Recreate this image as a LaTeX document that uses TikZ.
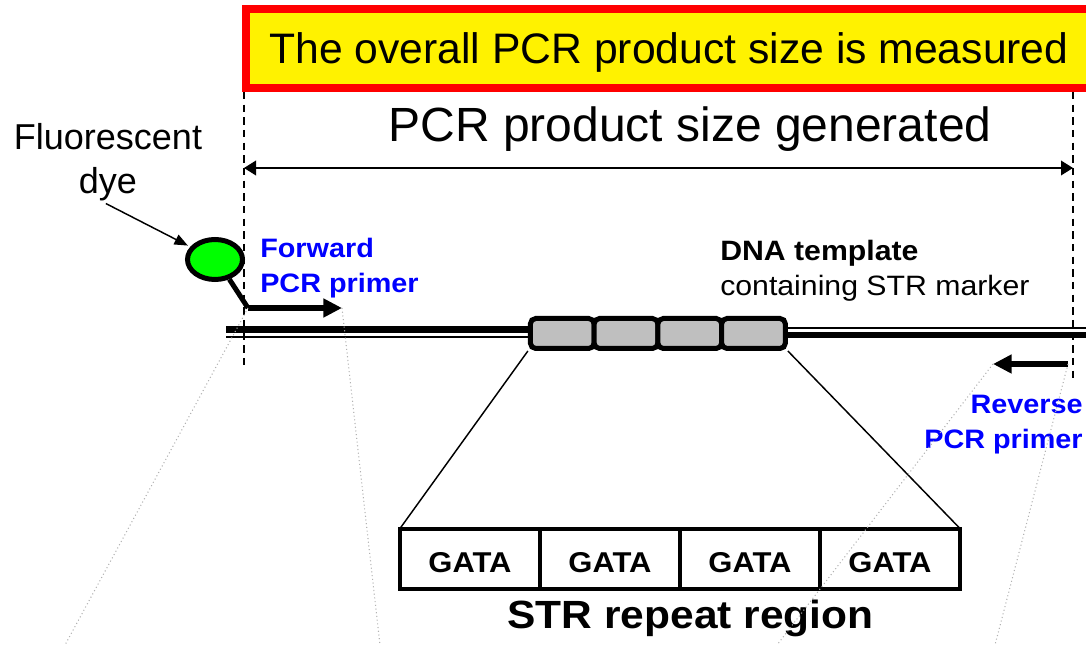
\documentclass[tikz,border=0pt]{standalone}
\usepackage{fontspec}
\setmainfont{Liberation Sans}
\newfontfamily\widesf[FakeStretch=1.08]{Liberation Sans}
\usetikzlibrary{arrows.meta,positioning,shapes.geometric}

\tikzset{
  unit/.style={draw, line width=3.75pt, fill=lightgray, rounded corners=4pt,
    minimum width=47.8pt, minimum height=22.5pt, inner sep=0pt},
  cell/.style={draw, line width=3pt, minimum width=105pt, minimum height=45pt,
    inner sep=0pt, outer sep=0pt, text height=20.5pt, text depth=0pt,
    font=\widesf\bfseries\fontsize{21.5}{24}\selectfont},
  primer/.style={line width=4.5pt, -{Triangle[length=14pt,width=13.5pt]}},
  guide/.style={line width=1.1pt, dash pattern=on 5.5pt off 4pt},
  trace/.style={gray!60, dotted, line width=0.8pt},
  bluelbl/.style={blue, inner sep=0pt, font=\widesf\bfseries\fontsize{20}{26.5}\selectfont},
}

\begin{document}
\begin{tikzpicture}[x=0.75pt,y=-0.75pt]
\useasboundingbox (0,0) rectangle (1086,645);

% measured size on top
\node[draw=red, fill=yellow, line width=6pt, minimum width=634.5pt, minimum height=58.9pt,
  inner sep=0pt, text depth=0pt, font=\fontsize{32}{38}\selectfont] (title) at (669,48.25)
  {The overall PCR product size is measured};
\draw[guide] (244,92) -- (244,370);
\draw[guide] (1073,92) -- (1073,381);
\coordinate (sizeL) at (244,168);
\coordinate (sizeR) at (1073,168);
\draw[line width=1.1pt, {Triangle[length=9pt,width=11pt]}-{Triangle[length=9pt,width=11pt]}] (sizeL) -- (sizeR);
\node[font=\fontsize{36}{42}\selectfont, anchor=base] (sizelbl) at (690,142) {PCR product size generated};

% template strands
\draw[line width=5.25pt] (226,329.5) -- (560,329.5);
\draw[line width=1.5pt] (226,337) -- (560,337);
\draw[line width=1.5pt] (760,328) -- (1090,328);
\draw[line width=4.5pt] (760,335) -- (1090,335);
\foreach \n in {1,...,4}
  \node[unit] (u\n) at ({498.5+63.75*\n},333.5) {};

\node[anchor=north west, align=left, inner sep=0pt, font=\widesf\fontsize{21}{26.25}\selectfont] (dnalbl)
  at (720,240) {\textbf{DNA template}\\containing STR marker};

% dye and primers
\node[font=\fontsize{27}{33}\selectfont, align=center, anchor=north, inner sep=0pt] (dye)
  at (108,123) {Fluorescent\\dye};
\node[ellipse, draw, line width=3.75pt, fill=green, minimum width=41.25pt, minimum height=30pt,
  inner sep=0pt] (bead) at (215,259.5) {};
\draw[line width=1.1pt, shorten <=4pt, shorten >=2pt, -{Triangle[length=10pt,width=8pt]}] (dye.-100) -- (bead);

\coordinate (fstart) at (248,308);
\coordinate (fend) at (342,308);
\coordinate (rstart) at (1068,364);
\coordinate (rend) at (993,364);
\draw[line width=3.75pt] (bead.-54) -- (fstart);
\draw[primer] (fstart) -- (fend);
\draw[primer] (rstart) -- (rend);
\node[bluelbl, align=left, anchor=north west] (fwdlbl) at (260,238) {Forward\\PCR primer};
\node[bluelbl, align=right, anchor=north east] (revlbl) at (1083,395) {Reverse\\PCR primer};

% zoom on the repeats
\node[cell] (g1) at (470,558.5) {GATA};
\node[cell, right=0pt of g1] (g2) {GATA};
\node[cell, right=0pt of g2] (g3) {GATA};
\node[cell, right=0pt of g3] (g4) {GATA};
\draw[line width=1.1pt] (u1.south west) -- (g1.north west);
\draw[line width=1.1pt] (u4.south east) -- (g4.north east);
\node[font=\widesf\bfseries\fontsize{29.5}{34}\selectfont, anchor=base] (strlbl) at (690.5,628) {STR repeat region};

% faint traces
\coordinate (t1) at (65,645);
\coordinate (t2) at (380,645);
\coordinate (t3) at (777,645);
\coordinate (t4) at (995,645);
\draw[trace] (fstart) -- (t1);
\draw[trace] (fend) -- (t2);
\draw[trace] (rend) -- (t3);
\draw[trace] (rstart) -- (t4);

\end{tikzpicture}
\end{document}
